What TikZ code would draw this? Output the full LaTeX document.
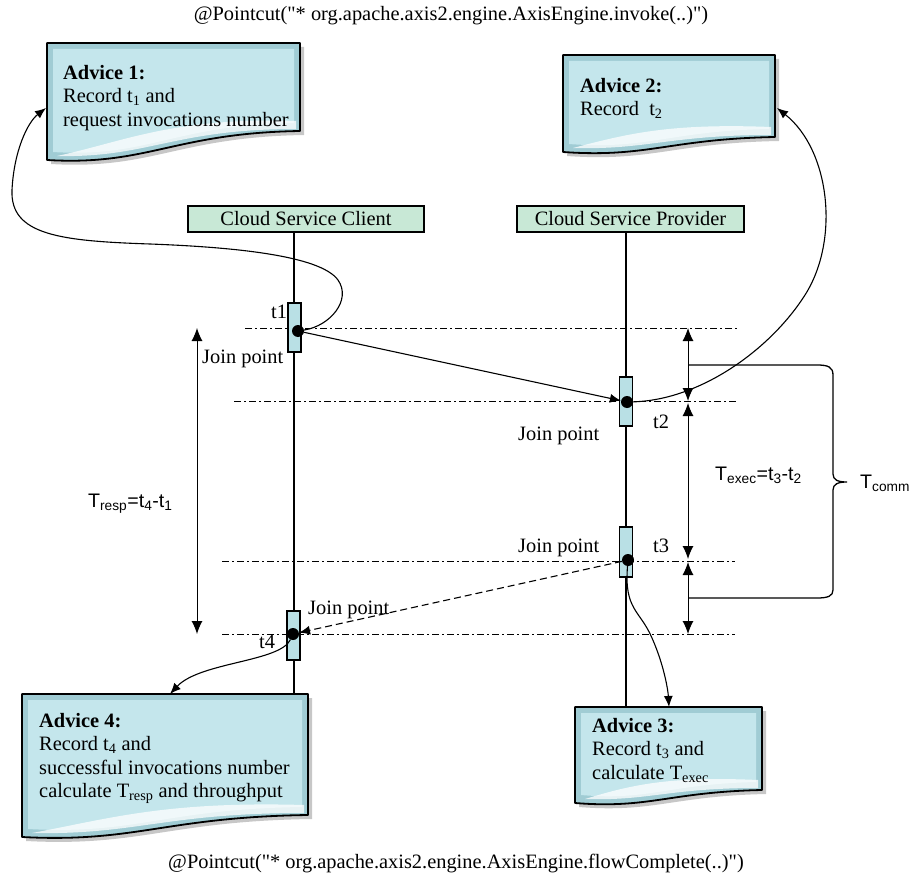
\documentclass[tikz,border=0pt]{standalone}
\usepackage{fontspec}
\setmainfont{Liberation Serif}[Ligatures=TeXOff]
\newfontfamily\arialfont{Liberation Sans}
\usetikzlibrary{arrows.meta}

\definecolor{actorfill}{RGB}{200,232,214}
\definecolor{actfill}{RGB}{185,224,229}
\definecolor{advfill}{RGB}{196,230,236}
\definecolor{advedge}{RGB}{160,204,212}

% document-shaped advice box: x1, y1 (top), x2, right-bottom y, left-bottom y
\newcommand\docshape[5]{%
  \fill[black!22] ({#1+4},{#2+4}) -- ({#3+4},{#2+4}) -- ({#3+4},{#4+4})
    .. controls ({#1+0.5*(#3-#1)+4},{#4+6}) and ({#1+0.4*(#3-#1)+4},{#5+10}) .. ({#1+4},{#5+4}) -- cycle;
  \fill[advedge] (#1,#2) -- (#3,#2) -- (#3,#4)
    .. controls ({#1+0.5*(#3-#1)},{#4+2}) and ({#1+0.4*(#3-#1)},{#5+6}) .. (#1,#5) -- cycle;
  \fill[advfill] ({#1+6},{#2+6}) -- ({#3-6},{#2+6}) -- ({#3-6},{#4-8})
    .. controls ({#1+0.5*(#3-#1)},{#4-6}) and ({#1+0.4*(#3-#1)},{#5-2}) .. ({#1+6},{#5-8}) -- cycle;
  \fill[white,opacity=0.75] ({#1+10},{#5-4})
    .. controls ({#1+0.4*(#3-#1)},{#5-2}) and ({#1+0.5*(#3-#1)},{#4-2}) .. ({#3-4},{#4-2})
    -- ({#3-4},{#4-10})
    .. controls ({#1+0.5*(#3-#1)},{#4-14}) and ({#1+0.3*(#3-#1)},{#5-18}) .. ({#1+10},{#5-4});
  \draw[line width=1.8pt,line join=round] (#1,#2) -- (#3,#2) -- (#3,#4)
    .. controls ({#1+0.5*(#3-#1)},{#4+2}) and ({#1+0.4*(#3-#1)},{#5+6}) .. (#1,#5) -- cycle;
}

\begin{document}
\begin{tikzpicture}[x=1pt,y=-1pt,
  serif/.style={font=\fontsize{20.4}{23.5}\selectfont},
  sans/.style={font=\arialfont\fontsize{19.6}{22}\selectfont},
  lbl/.style={serif,inner sep=0,anchor=base west},
  actor/.style={draw,line width=1.2pt,fill=actorfill,minimum height=26pt,inner sep=0,serif},
  activation/.style={draw,line width=1.2pt,fill=actfill,minimum width=13pt,inner sep=0},
  jp/.style={circle,fill=black,inner sep=0,minimum size=12pt},
  lifeline/.style={line width=1.5pt},
  guide/.style={line width=0.8pt,dash pattern=on 7pt off 3pt on 2pt off 3pt},
  call/.style={line width=1.1pt,-{Latex[length=11pt,width=9pt]}},
  span/.style={line width=1pt,{Latex[length=13pt,width=11pt]}-{Latex[length=13pt,width=11pt]}},
  advtext/.style={serif,inner sep=0,anchor=north west,align=left}]

\useasboundingbox (0,0) rectangle (911,880);

% pointcut captions
\node[serif,inner sep=0,anchor=base] (pc1) at (451,21) {@Pointcut("* org.apache.axis2.engine.AxisEngine.invoke(..)")};
\node[serif,inner sep=0,anchor=base] (pc2) at (456,868) {@Pointcut("* org.apache.axis2.engine.AxisEngine.flowComplete(..)")};

% advice boxes
\docshape{47}{43}{300}{131}{160}
\docshape{563}{55}{775}{137}{152}
\docshape{22}{694}{308}{815}{837}
\docshape{575}{707}{762}{790}{803}

\node[advtext] (a1) at (63,65) {\textbf{Advice 1:}\\Record t\textsubscript{1} and\\request invocations number};
\node[advtext] (a2) at (580,78) {\textbf{Advice 2:}\\Record\enspace t\textsubscript{2}};
\node[advtext] (a4) at (39,713) {\textbf{Advice 4:}\\Record t\textsubscript{4} and\\successful invocations number\\calculate T\textsubscript{resp} and throughput};
\node[advtext] (a3) at (592,718) {\textbf{Advice 3:}\\Record t\textsubscript{3} and\\calculate T\textsubscript{exec}};

\coordinate (in1) at (46,108);
\coordinate (in2) at (777,108);
\coordinate (in3) at (669,707);
\coordinate (in4) at (170,694);

% time guides
\draw[guide] (245,328) -- (738,328);
\draw[guide] (234,401) -- (737,401);
\draw[guide] (222,561) -- (735,561);
\draw[guide] (222,634) -- (735,634);

% actors and lifelines
\node[actor,minimum width=236pt] (client) at (306,219) {Cloud Service Client};
\node[actor,minimum width=227pt] (provider) at (630.5,219) {Cloud Service Provider};
\coordinate (cend) at (294,694);
\coordinate (pend) at (626,707);
\draw[lifeline] (client.south -| cend) -- (cend);
\draw[lifeline] (provider.south -| pend) -- (pend);

% activations
\node[activation,minimum height=49pt] (act1) at (294.5,327.5) {};
\node[activation,minimum height=49pt] (act2) at (626,401.5) {};
\node[activation,minimum height=50pt] (act3) at (626,552) {};
\node[activation,minimum height=49pt] (act4) at (293.5,635.5) {};

% join points
\node[jp] (j1) at (298,331) {};
\node[jp] (j2) at (627,402) {};
\node[jp] (j3) at (628,560) {};
\node[jp] (j4) at (293,634) {};

% messages
\draw[call] (j1) -- (j2);
\draw[call,dashed,dash pattern=on 7pt off 4pt] (j3) -- (j4);

% advice hooks
\draw[call] (j1) .. controls (330,326) and (352,300) .. (338,280)
  .. controls (320,255) and (230,247) .. (150,244)
  .. controls (60,241) and (10,235) .. (12,190)
  .. controls (14,150) and (28,122) .. (in1);
\draw[call] (j2) .. controls (700,400) and (770,350) .. (805,295)
  .. controls (840,240) and (830,150) .. (in2);
\draw[call] (j3) .. controls (624,610) and (640,610) .. (652,638)
  .. controls (664,665) and (668,690) .. (in3);
\draw[call] (j4) .. controls (280,662) and (200,662) .. (in4);

% labels
\node[lbl] (t1) at (271,318) {t1};
\node[lbl] (t2) at (653,428) {t2};
\node[lbl] (t3) at (653,552) {t3};
\node[lbl] (t4) at (259,648) {t4};
\node[lbl] (jp1) at (202,363) {Join point};
\node[lbl] (jp2) at (518,440) {Join point};
\node[lbl] (jp3) at (518,552) {Join point};
\node[lbl] (jp4) at (308,614) {Join point};

% response time
\coordinate (r1) at (197,328);
\coordinate (r2) at (197,634);
\draw[span] (r1) -- (r2);
\node[sans,inner sep=0,anchor=base west] (tresp) at (88,507) {T\textsubscript{resp}=t\textsubscript{4}-t\textsubscript{1}};

% execution time and communication spans
\coordinate (e1) at (688,328);
\coordinate (e2) at (688,401);
\coordinate (e3) at (688,403);
\coordinate (e4) at (688,559);
\coordinate (e5) at (688,562);
\coordinate (e6) at (688,634);
\draw[span] (e1) -- (e2);
\draw[span] (e3) -- (e4);
\draw[span] (e5) -- (e6);
\node[sans,inner sep=0,anchor=base west] (texec) at (715,480) {T\textsubscript{exec}=t\textsubscript{3}-t\textsubscript{2}};

\coordinate (b1) at (688,365);
\coordinate (b2) at (688,598);
\draw[line width=1.3pt] (b1) -- (817,365)
  .. controls (828,365) and (833,367) .. (833,375) -- (833,474)
  .. controls (833,480) and (838,482) .. (847,482)
  .. controls (838,482) and (833,484) .. (833,490) -- (833,590)
  .. controls (833,596) and (828,598) .. (817,598) -- (b2);
\node[sans,inner sep=0,anchor=base west] (tcomm) at (860,488) {T\textsubscript{comm}};

\end{tikzpicture}
\end{document}
